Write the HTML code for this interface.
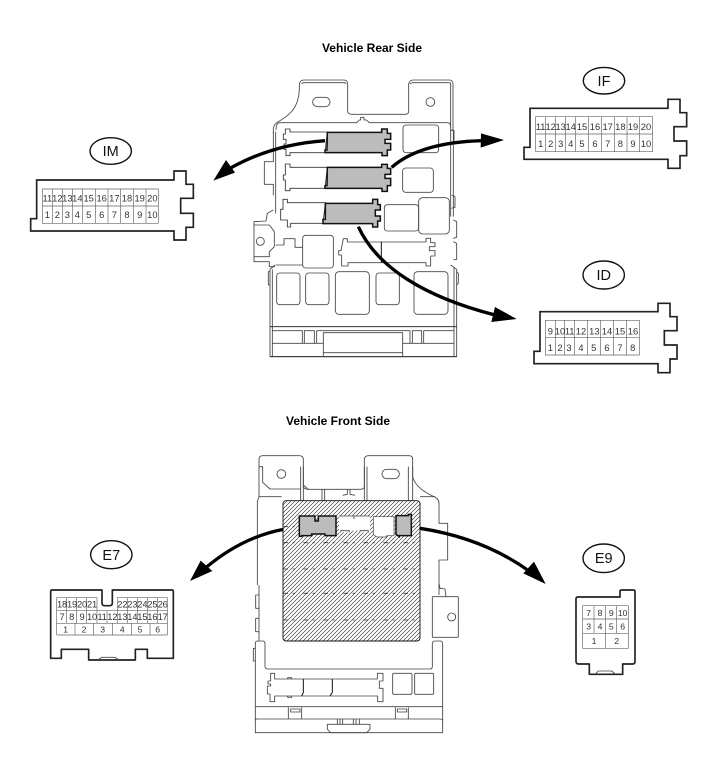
<!DOCTYPE html>
<html><head><meta charset="utf-8"><style>
html,body{margin:0;padding:0;background:#fff}
svg{display:block}
text{font-family:"Liberation Sans",sans-serif}
.o{fill:none;stroke:#444;stroke-width:2.6;stroke-linejoin:round}
.k{fill:none;stroke:#111;stroke-width:3}
.c{fill:#fff;stroke:#222;stroke-width:5;stroke-linejoin:miter}
.g{fill:none;stroke:#666;stroke-width:2}
.n text{font-size:28px;fill:#333;text-anchor:middle}
.s text{font-size:26px;fill:#333;text-anchor:middle}
.e{fill:#fff;stroke:#111;stroke-width:1.4}
.l{font-size:14.5px;fill:#111;text-anchor:middle}
.t{font-size:12px;font-weight:bold;fill:#000;text-anchor:middle}
.gr{fill:#bcbcbc;stroke:#111;stroke-width:4.5;stroke-linejoin:miter}
.w{fill:#fff;stroke:#333;stroke-width:2.6}
.h{fill:none;stroke:#000;stroke-width:10}
.d{fill:none;stroke:#333;stroke-width:2.4;stroke-dasharray:14 14 6 26}
</style></head><body>
<svg width="713" height="782" viewBox="0 0 713 782" xmlns="http://www.w3.org/2000/svg">
<defs>
<pattern id="hatch" width="4" height="4" patternUnits="userSpaceOnUse">
<path d="M-1,1 L1,-1 M0,4 L4,0 M3,5 L5,3" stroke="#222" stroke-width="0.6"/>
</pattern>
</defs>
<text class="t" x="372" y="52">Vehicle Rear Side</text>
<text class="t" x="338" y="425">Vehicle Front Side</text>

<!-- REAR PANEL top -->
<g transform="translate(240,70) scale(.33333)">
<path class="o" d="M100,190 V175 Q102,163 112,157 C150,135 175,115 178,60 V42 Q180,30 192,30 H312 Q322,30 323,42 V125 Q325,133 335,133 H495 Q505,133 506,125 V42 Q508,30 520,30 H628 Q638,30 639,42 V180"/>
<path class="o" d="M185,42 Q187,38 192,38 H312 Q318,38 318,42 M510,42 Q512,38 520,38 H628 Q632,38 632,42 V185"/>
<path class="o" d="M108,180 Q108,158 120,158 H350 L358,150 H362 V142 H372 V150 H380 L388,158 H622 Q632,158 632,170"/>
<rect class="o" x="218" y="82" width="52" height="28" rx="14"/>
<circle class="o" cx="571" cy="96" r="13"/>
<path class="o" d="M100,185 V275 H73 V343 H100 V376 M107,185 V430"/>
<path class="o" d="M632,180 H640 V440 M632,180 V440"/>
</g>
<g transform="translate(180,120) scale(.33333)">
<path class="w" d="M442,36 H330 V27 H316 V42 H310 V58 H318 V72 H312 V88 H318 V107 H330 V98 H435Z"/>
<path class="gr" d="M442,37 H605 V27 H622 V40 H632 V58 H615 V70 H632 V90 H622 V107 H606 V98 H435 V90 H441Z"/>
<path class="w" d="M442,142 H330 V132 H316 V165 H310 V180 H316 V212 H330 V205 H435Z"/>
<path class="gr" d="M442,142 H605 V133 H622 V145 H632 V163 H615 V175 H632 V197 H622 V214 H606 V205 H435 V197 H441Z"/>
<path class="w" d="M436,248 H322 V238 H309 V268 H302 V300 H322 V321 H332 V310 H429Z"/>
<path class="gr" d="M436,250 H578 V238 H593 V254 H601 V270 H586 V288 H601 V303 H593 V321 H578 V311 H429 V298 H436Z"/>
<rect class="o" x="669" y="15" width="107" height="83" rx="9"/>
<rect class="o" x="668" y="144" width="92" height="73" rx="9"/>
<rect class="o" x="613" y="254" width="103" height="79" rx="9"/>
<rect class="o" x="716" y="233" width="92" height="109" rx="12" fill="#fff"/>
<rect class="o" x="368" y="346" width="92" height="98" rx="9"/>
<rect class="o" x="290" y="459" width="70" height="95" rx="9"/>
<rect class="o" x="377" y="459" width="70" height="95" rx="9"/>
<rect class="o" x="466" y="455" width="102" height="128" rx="11"/>
<rect class="o" x="588" y="459" width="70" height="95" rx="9"/>
<rect class="o" x="702" y="455" width="102" height="128" rx="11"/>
<path class="o" d="M287,375 H312 V356 H345 V382 H367 M287,435 H367"/>
<path class="o" d="M490,356 H502 V366 H738 V355 H752 V368 H765 V380 H748 V392 H765 V408 H752 V438 H738 V428 H504 V438 H485 V405 H476 V392 H483 Z"/>
<path class="k" d="M604,366 V428"/>
<path class="o" d="M280,270 L262,280 L258,303 L222,305 V425 H268 V440 H285"/>
<path class="o" d="M222,315 H268 L283,335 V380 L268,395 V410 H222"/>
<circle class="o" cx="241" cy="364" r="12"/>
<path class="o" d="M812,30 L822,32 V68 L812,70 M815,225 L825,230 V262 L815,265 M820,300 L830,305 V352 L820,355 M820,365 L830,370 V418 L820,420"/>
</g>
<g transform="translate(240,210) scale(.33333)">
<path class="o" d="M90,178 V440 H650 V178 L632,165 M97,178 V440 M642,172 V440 M105,165 L90,178"/>
<path class="o" d="M90,185 H85 V225 H90 M650,185 L655,190 V220 L650,225"/>
<path class="k" d="M90,350 H650 M90,440 H650" style="stroke:#333"/>
<path class="o" d="M97,362 H187 V400 M193,400 V362 H223 V400 M230,400 V362 H510 V400 M517,400 V362 H545 V400 M551,400 V362 H642"/>
<path class="o" d="M97,400 H250 M488,400 H642"/>
<rect class="o" x="250" y="368" width="238" height="72" fill="#fff"/>
<path class="o" d="M250,428 H488"/>
</g>

<!-- FRONT PANEL -->
<g transform="translate(240,445) scale(.33333)">
<path class="o" d="M57,155 V42 Q58,32 68,32 H178 Q189,32 190,42 V125 Q192,133 205,133 H360 Q372,133 373,125 V42 Q375,32 385,32 H507 Q518,32 518,42 V95 C525,125 560,145 578,153 Q597,160 597,175 V235 H623 V345 H597 V420"/>
<path class="o" d="M57,155 L52,170 V420 M57,155 H125 M540,155 H585"/>
<path class="o" d="M57,65 H68 V112 L90,132 H182 M182,65 V168 M190,65 V168 M373,65 V168 M381,65 V168 M505,65 V168 M518,65 V168 M246,133 V168 M254,133 V168"/>
<path class="o" d="M308,151 L322,148 V133 M330,133 V148 L345,151 M190,120 L205,133"/>
<circle class="o" cx="124" cy="87" r="13"/>
<rect class="o" x="426" y="73" width="52" height="28" rx="14"/>
</g>
<rect x="283" y="500.7" width="137" height="140.3" rx="3" fill="#fff"/>
<rect x="283" y="500.7" width="137" height="140.3" rx="3" fill="url(#hatch)" stroke="#111" stroke-width="0.9"/>
<g transform="translate(240,445) scale(.33333)">
<path class="d" d="M130,245 H178 M490,245 H535 M130,293 H530 M130,372 H530"/>
<path d="M297,213 H390 V262 H360 V257 H330 V262 H297Z" fill="#fff"/>
<path d="M297,213 H390 M342,213 V222 M302,262 V257 H328 V262 M360,262 V257 H385 V262" class="o"/>
<path d="M400,215 H462 V272 H440 V276 H410 L400,268Z" fill="#fff" stroke="#444" stroke-width="2"/>
<path class="gr" d="M178,213 H225 V228 H235 V213 H288 V272 H255 V267 H215 V272 H185 V274 H178Z"/>
<path class="gr" d="M468,212 H505 V208 H514 V272 H478 V275 L468,268Z"/>
</g>
<g transform="translate(240,585) scale(.33333)">
<path class="d" d="M130,25 H530 M130,105 H530"/>
<path class="o" d="M597,-5 L600,10 L615,12 L618,35"/>
<rect class="o" x="577" y="35" width="78" height="122" rx="2" fill="#fff"/>
<circle class="o" cx="635" cy="96" r="12"/>
<path class="o" d="M57,0 V168 M57,30 H47 V70 H57 M57,100 H47 V140 H57 M597,0 V30"/>
<path class="o" d="M46,175 Q46,168 53,168 H70 Q75,170 75,176 V245 Q76,252 83,252 H570 Q577,252 577,245 V176 Q577,170 584,168 H602 Q608,170 608,176 V443 H46 Z"/>
<path class="o" d="M46,190 H40 V228 H46"/>
<path class="o" d="M46,365 H608 M46,402 H600 Q606,402 608,407 M46,407 Q46,402 52,402"/>
<path class="o" d="M145,367 V402 M185,367 V402 M466,367 V402 M505,367 V402"/>
<rect class="o" x="152" y="372" width="28" height="9"/>
<rect class="o" x="472" y="372" width="28" height="9"/>
<path class="o" d="M262,418 H390 V433 L380,443 H272 L262,433 Z M292,402 V418 M300,402 V418 M308,402 V418 M340,402 V418 M348,402 V418 M358,402 V418"/>
<rect class="o" x="458" y="265" width="58" height="63" rx="4"/>
<rect class="o" x="524" y="265" width="57" height="63" rx="4"/>
<path class="o" d="M92,265 H104 V282 H412 V265 H429 V288 H418 V310 H429 V350 H413 V333 H104 V350 H90 V327 H82 V303 H92 V297 H84 V288 H92 Z"/>
<path class="k" d="M190,282 V322 L185,333 M277,282 V322 L270,333"/>
<path class="o" d="M143,282 V278 H155 V282 M143,333 V337 H155 V333"/>
</g>

<!-- ARROWS -->
<g transform="translate(180,120) scale(.33333)">
<path class="h" d="M435,62 C320,70 230,100 150,145"/>
<path d="M100,182 L138,120 L165,158Z" fill="#000"/>
<path class="h" d="M635,142 C700,85 800,65 905,62"/>
<path d="M903,40 L972,60 L902,83Z" fill="#000"/>
<path class="h" d="M535,320 C590,440 730,530 945,585"/>
<path d="M945,561 L1010,597 L934,606Z" fill="#000"/>
</g>
<g transform="translate(180,510) scale(.33333)">
<path class="h" d="M310,58 C220,75 140,120 75,175"/>
<path d="M30,213 L62,152 L97,183Z" fill="#000"/>
<path class="h" d="M720,55 C850,75 960,120 1050,185"/>
<path d="M1097,222 L1030,190 L1062,155Z" fill="#000"/>
</g>

<!-- IM -->
<ellipse class="e" cx="110.7" cy="151" rx="20.7" ry="13.3"/>
<text class="l" x="110.7" y="156">IM</text>
<g transform="translate(20,130) scale(.33333)">
<path class="c" d="M50,150 H462 V123 H498 V163 H520 V205 H482 V250 H520 V292 H498 V330 H462 V303 H32 V266 H50Z"/>
<path class="g" d="M67,177 H415 V280 H67Z M67,228 H415 M97,177 V280 M127,177 V280 M157,177 V280 M187,177 V280 M226,177 V280 M264,177 V280 M302,177 V280 M340,177 V280 M378,177 V280"/>
<g class="n">
<text x="82" y="215">11</text><text x="112" y="215">12</text><text x="142" y="215">13</text><text x="172" y="215">14</text><text x="206" y="215">15</text><text x="245" y="215">16</text><text x="283" y="215">17</text><text x="321" y="215">18</text><text x="359" y="215">19</text><text x="397" y="215">20</text>
<text x="82" y="264">1</text><text x="112" y="264">2</text><text x="142" y="264">3</text><text x="172" y="264">4</text><text x="206" y="264">5</text><text x="245" y="264">6</text><text x="283" y="264">7</text><text x="321" y="264">8</text><text x="359" y="264">9</text><text x="397" y="264">10</text>
</g></g>

<!-- IF -->
<ellipse class="e" cx="604" cy="80.7" rx="20.7" ry="13.3"/>
<text class="l" x="604" y="86">IF</text>
<g transform="translate(510,60) scale(.33333)">
<path class="c" d="M60,145 H474 V118 H510 V158 H530 V200 H492 V243 H530 V287 H510 V325 H474 V298 H42 V262 H60Z"/>
<path class="g" d="M77,170 H428 V275 H77Z M77,222 H428 M107,170 V275 M137,170 V275 M167,170 V275 M197,170 V275 M236,170 V275 M274,170 V275 M313,170 V275 M351,170 V275 M389,170 V275"/>
<g class="n">
<text x="92" y="210">11</text><text x="122" y="210">12</text><text x="152" y="210">13</text><text x="182" y="210">14</text><text x="216" y="210">15</text><text x="255" y="210">16</text><text x="293" y="210">17</text><text x="331" y="210">18</text><text x="369" y="210">19</text><text x="408" y="210">20</text>
<text x="92" y="261">1</text><text x="122" y="261">2</text><text x="152" y="261">3</text><text x="182" y="261">4</text><text x="216" y="261">5</text><text x="255" y="261">6</text><text x="293" y="261">7</text><text x="331" y="261">8</text><text x="369" y="261">9</text><text x="408" y="261">10</text>
</g></g>

<!-- ID -->
<ellipse class="e" cx="603.7" cy="275" rx="20.7" ry="14"/>
<text class="l" x="603.7" y="280">ID</text>
<g transform="translate(510,255) scale(.33333)">
<path class="c" d="M90,170 H444 V145 H480 V185 H501 V227 H463 V270 H501 V312 H480 V353 H444 V326 H72 V289 H90Z"/>
<path class="g" d="M106,196 H388 V300 H106Z M106,247 H388 M136,196 V300 M164,196 V300 M194,196 V300 M233,196 V300 M272,196 V300 M311,196 V300 M350,196 V300"/>
<g class="n">
<text x="121" y="238">9</text><text x="150" y="238">10</text><text x="179" y="238">11</text><text x="213" y="238">12</text><text x="253" y="238">13</text><text x="291" y="238">14</text><text x="330" y="238">15</text><text x="369" y="238">16</text>
<text x="121" y="288">1</text><text x="150" y="288">2</text><text x="177" y="288">3</text><text x="213" y="288">4</text><text x="251" y="288">5</text><text x="291" y="288">6</text><text x="330" y="288">7</text><text x="368" y="288">8</text>
</g></g>

<!-- E7 -->
<ellipse class="e" cx="111.3" cy="554.7" rx="20.7" ry="14"/>
<text class="l" x="111.3" y="560">E7</text>
<g transform="translate(30,535) scale(.33333)">
<path class="c" style="stroke-linejoin:round" d="M66,165 H216 V204 Q216,212 224,212 H239 Q247,212 247,204 V165 H426 Q430,165 430,170 V370 H352 V343 H316 V375 H176 V343 H94 V370 H62 V170 Q62,165 66,165Z"/>
<path class="o" d="M203,375 L215,367 H255 L267,375"/>
<path class="g" d="M80,188 H201 M262,188 H412 M80,227 H412 M80,265 H412 M80,300 H412 M80,188 V300 M412,188 V300 M110,188 V265 M140,188 V265 M170,188 V265 M201,188 V265 M231,227 V265 M262,188 V265 M292,188 V265 M322,188 V265 M352,188 V265 M383,188 V265 M135,265 V300 M191,265 V300 M248,265 V300 M305,265 V300 M360,265 V300"/>
<g class="n" style="letter-spacing:-0.5px">
<text x="96" y="217">18</text><text x="126" y="217">19</text><text x="156" y="217">20</text><text x="186" y="217">21</text><text x="277" y="217">22</text><text x="307" y="217">23</text><text x="337" y="217">24</text><text x="367" y="217">25</text><text x="398" y="217">26</text>
<text x="96" y="255">7</text><text x="125" y="255">8</text><text x="156" y="255">9</text><text x="186" y="255">10</text><text x="216" y="255">11</text><text x="247" y="255">12</text><text x="277" y="255">13</text><text x="307" y="255">14</text><text x="337" y="255">15</text><text x="367" y="255">16</text><text x="398" y="255">17</text>
</g>
<g class="s"><text x="107" y="292">1</text><text x="162" y="292">2</text><text x="218" y="292">3</text><text x="277" y="292">4</text><text x="330" y="292">5</text><text x="383" y="292">6</text></g>
</g>

<!-- E9 -->
<ellipse class="e" cx="603.7" cy="558.3" rx="20.7" ry="14.3"/>
<text class="l" x="603.7" y="563">E9</text>
<g transform="translate(550,535) scale(.33333)">
<path class="c" style="stroke-linejoin:round" d="M84,186 H210 V170 Q210,165 215,165 H250 Q255,165 255,170 V380 Q255,387 248,387 H218 V418 H118 V387 H86 Q78,387 78,378 V192 Q78,186 84,186Z"/>
<path class="o" d="M135,418 L145,408 H185 L197,418"/>
<path class="g" d="M98,212 H235 V340 H98Z M98,252 H235 M98,295 H235 M132,212 V295 M166,212 V340 M200,212 V295"/>
<g class="s"><text x="116" y="243">7</text><text x="150" y="243">8</text><text x="184" y="243">9</text><text x="218" y="243">10</text><text x="116" y="284">3</text><text x="150" y="284">4</text><text x="184" y="284">5</text><text x="218" y="284">6</text><text x="132" y="327">1</text><text x="200" y="327">2</text></g>
</g>
</svg>
</body></html>
